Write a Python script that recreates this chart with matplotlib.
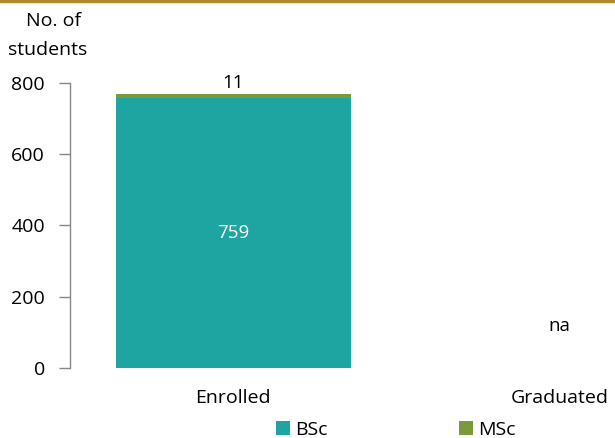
import matplotlib
matplotlib.use("Agg")
import matplotlib.pyplot as plt
from matplotlib.patches import Patch
from matplotlib.lines import Line2D

categories = ["Enrolled", "Graduated"]
bsc = [759, 0]
msc = [11, 0]
na_label = "na"
yticks = [0, 200, 400, 600, 800]

plt.rcParams['font.family'] = ['Open Sans', 'DejaVu Sans']

fig = plt.figure(figsize=(6.15, 4.38), dpi=100)
W, H = 615, 438
x0, x1 = 70, 723
y0, y1 = 368, 83
ax = fig.add_axes([x0 / W, 1 - y0 / H, (x1 - x0) / W, (y0 - y1) / H])
ax.set_xlim(-0.5, 1.5)
ax.set_ylim(0, 800)

teal = "#1fa5a1"
olive = "#7a9a3c"
pos = [0, 1]
fs = 13.5
ax.bar(pos[0], bsc[0], width=0.72, color=teal)
ax.bar(pos[0], msc[0], bottom=bsc[0], width=0.72, color=olive)
ax.text(pos[0], bsc[0] / 2, str(bsc[0]), ha="center", va="center", color="white", fontsize=fs)
ax.text(pos[0], bsc[0] + msc[0] + 6, str(msc[0]), ha="center", va="bottom", color="black", fontsize=fs)
ax.text(pos[1], 118, na_label, ha="center", va="center", color="black", fontsize=fs)

ax.set_yticks(yticks)
ax.set_yticklabels([str(v) for v in yticks], fontsize=14)
ax.set_xticks(pos)
ax.set_xticklabels(categories, fontsize=14)
ax.tick_params(axis="x", length=0, pad=15)
ax.tick_params(axis="y", length=8, color="#888888", width=1, pad=10, direction="out")
for s in ["top", "right", "bottom"]:
    ax.spines[s].set_visible(False)
ax.spines["left"].set_color("#888888")
ax.spines["left"].set_linewidth(1)

fig.text(54 / W, 1 - 21 / H, "No. of", ha="center", va="center", fontsize=14)
fig.text(48 / W, 1 - 50 / H, "students", ha="center", va="center", fontsize=14)

# gold line at top
fig.add_artist(Line2D([0, 1], [1 - 1 / H, 1 - 1 / H], color="#b0892a", linewidth=2.5, transform=fig.transFigure))

handles = [Patch(facecolor=teal, label="BSc"), Patch(facecolor=olive, label="MSc")]
fig.legend(handles=handles, loc="center", bbox_to_anchor=(396 / W, 1 - 430 / H), ncol=2,
           frameon=False, fontsize=14, handlelength=0.7, handleheight=0.7,
           columnspacing=6.75, handletextpad=0.3)

fig.savefig("out.png", dpi=100)
